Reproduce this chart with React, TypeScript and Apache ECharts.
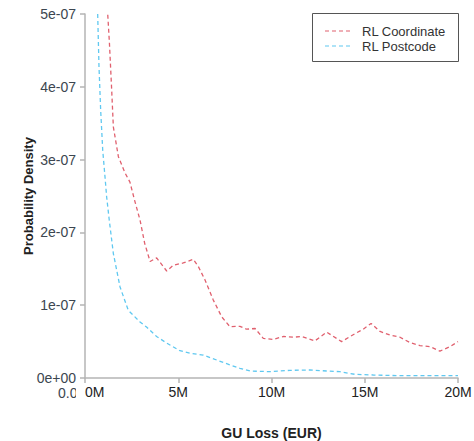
import React, { useEffect, useRef } from "react";
import * as echarts from "echarts";

// x in millions of EUR, y probability density
const coordX = [1.22, 1.31, 1.43, 1.52, 1.79, 2.14, 2.41, 2.65, 2.95, 3.2, 3.49, 3.84, 4.38, 4.74, 5.27, 5.81, 6.08, 6.43, 6.88, 7.33, 7.77, 8.31, 8.67, 9.12, 9.56, 10.1, 10.63, 11.17, 11.6, 12.33, 12.96, 13.76, 14.48, 14.92, 15.34, 15.82, 16.35, 16.89, 17.43, 17.96, 18.5, 19.03, 19.57, 20.0];
const coordY = [4.99e-7, 4.6e-7, 3.96e-7, 3.45e-7, 3.04e-7, 2.82e-7, 2.69e-7, 2.45e-7, 2.17e-7, 1.85e-7, 1.6e-7, 1.65e-7, 1.47e-7, 1.55e-7, 1.58e-7, 1.63e-7, 1.53e-7, 1.35e-7, 1.07e-7, 8.4e-8, 7.05e-8, 7.1e-8, 6.7e-8, 6.8e-8, 5.45e-8, 5.3e-8, 5.7e-8, 5.6e-8, 5.7e-8, 5.1e-8, 6.3e-8, 5.0e-8, 6.1e-8, 6.7e-8, 7.5e-8, 6.4e-8, 5.9e-8, 5.6e-8, 4.85e-8, 4.45e-8, 4.3e-8, 3.7e-8, 4.3e-8, 5.0e-8];

const postX = [0.68, 0.75, 0.84, 0.95, 1.07, 1.16, 1.3, 1.52, 1.88, 2.32, 2.95, 3.3, 3.84, 4.38, 5.09, 5.63, 6.34, 7.06, 7.77, 8.31, 8.85, 9.92, 10.99, 12.06, 12.96, 13.67, 14.48, 15.46, 16.89, 18.7, 20.0];
const postY = [5.0e-7, 4.28e-7, 3.68e-7, 3.13e-7, 2.77e-7, 2.49e-7, 2.17e-7, 1.71e-7, 1.25e-7, 9.3e-8, 7.7e-8, 7.0e-8, 5.7e-8, 4.8e-8, 3.75e-8, 3.4e-8, 3.15e-8, 2.47e-8, 1.8e-8, 1.33e-8, 9.6e-9, 8.7e-9, 1.05e-8, 1.1e-8, 9.6e-9, 8.7e-9, 5.0e-9, 4.1e-9, 3.2e-9, 3.2e-9, 3.2e-9];

const seriesNames = ["RL Coordinate", "RL Postcode"];
const yTickLabels = ["0e+00", "1e-07", "2e-07", "3e-07", "4e-07", "5e-07"];
const xTickLabels = ["0M", "5M", "10M", "15M", "20M"];

const RED = "#e0606e";
const BLUE = "#5fc8f0";

export default function App() {
  const ref = useRef<HTMLDivElement>(null);
  useEffect(() => {
    const chart = echarts.init(ref.current!, null, { renderer: "svg" });
    const pair = (xs: number[], ys: number[]) => xs.map((x, i) => [x, ys[i]]);
    const colors = [RED, BLUE];
    const legendRows = [31, 46];
    const legendGraphics: any[] = [
      {
        type: "rect",
        shape: { x: 312.5, y: 13.5, width: 146, height: 48 },
        z: 5,
        style: { fill: "#fff", stroke: "#555", lineWidth: 1 },
      },
    ];
    seriesNames.forEach((name, i) => {
      legendGraphics.push({
        type: "line",
        z: 6,
        shape: { x1: 325, y1: legendRows[i], x2: 351, y2: legendRows[i] },
        style: { stroke: colors[i], lineWidth: 1.2, lineDash: [4, 3] },
      });
      legendGraphics.push({
        type: "text",
        z: 6,
        x: 362,
        y: legendRows[i],
        style: { text: name, font: "13px 'Liberation Sans'", fill: "#333", verticalAlign: "middle" },
      });
    });
    chart.setOption({
      animation: false,
      backgroundColor: "#fff",
      grid: { left: 85, top: 14, right: 16, bottom: 63, containLabel: false, outerBoundsMode: "none" },
      xAxis: {
        type: "value",
        min: 0,
        max: 20,
        interval: 5,
        name: "GU Loss (EUR)",
        nameLocation: "middle",
        nameGap: 48,
        nameTextStyle: { fontFamily: "Liberation Sans", fontSize: 14, fontWeight: "bold", color: "#222" },
        splitLine: { show: false },
        axisLine: { lineStyle: { color: "#b5b5b5", width: 1.5 } },
        axisTick: { length: 5, lineStyle: { color: "#b5b5b5", width: 1.5 } },
        axisLabel: {
          margin: 7,
          fontFamily: "Liberation Sans",
          fontSize: 14,
          color: "#222",
          alignMinLabel: "left",
          formatter: (v: number) => xTickLabels[Math.round(v / 5)] ?? "",
        },
      },
      yAxis: {
        type: "value",
        min: 0,
        max: 5e-7,
        interval: 1e-7,
        name: "Probability Density",
        nameLocation: "middle",
        nameGap: 50,
        nameMoveOverlap: false,
        nameTextStyle: { fontFamily: "Liberation Sans", fontSize: 13, fontWeight: "bold", color: "#222" },
        splitLine: { show: false },
        axisLine: { show: true, lineStyle: { color: "#b5b5b5", width: 1.5 } },
        axisTick: { show: true, length: 5, lineStyle: { color: "#b5b5b5", width: 1.5 } },
        axisLabel: {
          margin: 9,
          fontFamily: "Liberation Sans",
          fontSize: 14,
          color: "#3c4650",
          formatter: (v: number) => yTickLabels[Math.round(v / 1e-7)] ?? "",
        },
      },
      graphic: [
        {
          type: "text",
          left: 58,
          top: 386,
          z: 1,
          style: { text: "0.0", font: "14px 'Liberation Sans'", fill: "#3c4650" },
        },
        {
          type: "rect",
          shape: { x: 76, y: 383, width: 6, height: 20 },
          z: 2,
          style: { fill: "#fff" },
        },
        ...legendGraphics,
      ],
      series: [
        {
          name: seriesNames[0],
          type: "line",
          data: pair(coordX, coordY),
          symbol: "none",
          color: RED,
          lineStyle: { color: RED, width: 1.3, type: [4, 3] },
        },
        {
          name: seriesNames[1],
          type: "line",
          data: pair(postX, postY),
          symbol: "none",
          color: BLUE,
          lineStyle: { color: BLUE, width: 1.3, type: [4, 3] },
        },
      ],
    });
    return () => chart.dispose();
  }, []);
  return <div ref={ref} style={{ width: 474, height: 441, position: "absolute", left: 0, top: 0 }} />;
}
